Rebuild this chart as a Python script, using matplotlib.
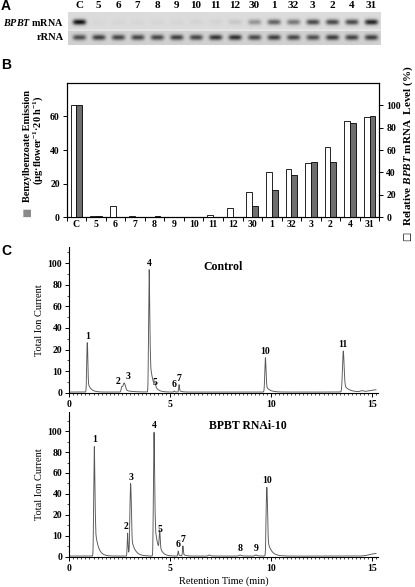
import numpy as np
import matplotlib
matplotlib.use('Agg')
import matplotlib.pyplot as plt

plt.rcParams['font.family'] = ['Liberation Serif', 'DejaVu Serif']
plt.rcParams['font.weight'] = 'bold'
plt.rcParams['mathtext.fontset'] = 'custom'
plt.rcParams['mathtext.rm'] = 'Liberation Serif:bold'
plt.rcParams['mathtext.it'] = 'Liberation Serif:italic:bold'
plt.rcParams['mathtext.bf'] = 'Liberation Serif:bold'
plt.rcParams['axes.linewidth'] = 0.8

# ---------------- data ----------------
lanes = ['C', '5', '6', '7', '8', '9', '10', '11', '12', '30', '1', '32', '3', '2', '4', '31']
mrna_band = [1.0, 0.02, 0.03, 0.03, 0.03, 0.03, 0.04, 0.04, 0.1, 0.35, 0.6, 0.5, 0.72, 0.72, 0.72, 0.9]
rrna_band = [0.72, 0.8, 0.76, 0.76, 0.76, 0.8, 0.76, 0.86, 0.88, 0.74, 0.8, 0.76, 0.72, 0.82, 0.78, 0.8]
emission = [67, 1.0, 0.4, 0.3, 0.7, 0.2, 0.4, 0.2, 0.2, 6.8, 16.5, 25, 33, 32.8, 55.9, 60.3]
mrna_level = [100, 1.2, 9.8, 0.8, 0.3, 0.2, 0.6, 2.1, 8.3, 23, 40.5, 43.5, 48.3, 62.6, 86.1, 89.1]

ctrl_t = [0.89, 2.6, 2.72, 3.96, 4.25, 5.2, 5.44, 9.72, 13.58, 14.5, 15.2]
ctrl_h = [26, 2, 4, 93.6, 1.6, 0.5, 3.4, 15.9, 19, 0.5, 1.0]
ctrl_w = [0.025, 0.03, 0.06, 0.025, 0.03, 0.02, 0.02, 0.03, 0.04, 0.08, 0.3]
ctrl_lab = ['1', '2', '3', '4', '5', '6', '7', '10', '11', '', '']

rnai_t = [1.24, 2.89, 3.04, 4.2, 4.48, 5.4, 5.63, 6.93, 8.46, 9.25, 9.79, 15.2]
rnai_h = [85, 11, 49, 98.8, 9.5, 2.4, 4.8, 0.5, 0.5, 0.5, 46, 1.2]
rnai_w = [0.025, 0.02, 0.03, 0.025, 0.025, 0.02, 0.02, 0.05, 0.05, 0.05, 0.03, 0.3]
rnai_lab = ['1', '2', '3', '4', '5', '6', '7', '', '8', '9', '10', '']

chrom_yticks = [0, 10, 20, 40, 60, 80, 100]
chrom_xticks = [0, 5, 10, 15]

W, H = 415, 587
fig = plt.figure(figsize=(W / 100, H / 100), dpi=100)


def rect(x0, y0, x1, y1):
    return [x0 / W, 1 - y1 / H, (x1 - x0) / W, (y1 - y0) / H]


def ft(x, y, s, **kw):
    return fig.text(x / W, 1 - y / H, s, **kw)


sans = dict(family=['Liberation Sans', 'DejaVu Sans'], weight='bold', size=10)
ft(1, 6, 'A', ha='left', va='center', **sans)
ft(1, 65, 'B', ha='left', va='center', **sans)
ft(1, 251, 'C', ha='left', va='center', **sans)

# ---------------- panel A: gel ----------------
axg = fig.add_axes(rect(68, 12, 380, 45))
x0, x1 = -0.58, 15.48
xs = np.linspace(x0, x1, 700)
ys = np.linspace(0, 33, 80)
X, Y = np.meshgrid(xs, ys)
img = np.where(Y < 17.6, 0.86, 0.82)
img = np.where((Y >= 17.6) & (Y < 18.6), 0.97, img)
for i in range(len(lanes)):
    prof = np.exp(-((X - i) / 0.34) ** 4)
    img = img - 0.8 * mrna_band[i] * prof * np.exp(-((Y - 10) / 2.8) ** 2)
    img = img - 0.72 * rrna_band[i] * prof * np.exp(-((Y - 25.5) / 2.8) ** 2)
img = np.clip(img, 0, 1)
axg.imshow(img, cmap='gray', vmin=0, vmax=1, extent=[x0, x1, 33, 0], aspect='auto',
           interpolation='bilinear')
axg.set_xlim(x0, x1)
axg.set_ylim(33, 0)
axg.axis('off')
for i, lab in enumerate(lanes):
    axg.text(i, -6.5, lab, ha='center', va='center', fontsize=8, clip_on=False)
ft(64, 22, r'$\mathit{BPBT}$ mRNA', ha='right', va='center', fontsize=7.3)
ft(64, 37.5, 'rRNA', ha='right', va='center', fontsize=7.5)

# ---------------- panel B: bars ----------------
axb = fig.add_axes(rect(66.7, 82.7, 379.3, 217.3))
axr = axb.twinx()
x = np.arange(len(lanes))
axb.bar(x + 0.15, emission, 0.3, color='#6e6e6e', edgecolor='black', linewidth=0.6, zorder=3)
axr.bar(x - 0.15, mrna_level, 0.3, color='white', edgecolor='black', linewidth=0.6, zorder=3)
axb.set_xlim(-0.5, len(lanes) - 0.5)
axb.set_ylim(0, 80)
axr.set_ylim(0, 120)
axb.set_yticks([0, 20, 40, 60])
axr.set_yticks([0, 20, 40, 60, 80, 100])
axb.set_xticks(np.arange(-0.5, len(lanes), 1))
axb.set_xticklabels([])
axb.set_xticks(x, minor=True)
axb.set_xticklabels(lanes, minor=True)
axb.tick_params(axis='x', which='major', length=3, width=0.7, direction='out')
axb.tick_params(axis='x', which='minor', length=0, pad=2, labelsize=7)
axb.tick_params(axis='y', length=3, width=0.7, pad=2, labelsize=7)
axr.tick_params(axis='y', length=3, width=0.7, pad=2, labelsize=7)

ft(27.5, 146, 'Benzylbenzoate Emission', rotation=90, ha='center', va='center', fontsize=7.5)
ft(27.5, 212, '■', rotation=90, ha='center', va='center', fontsize=7,
   family='DejaVu Sans', color='#8a8a8a')
ft(38, 140, r'(µg·flower$^{-1}$·20 h$^{-1}$)', rotation=90, ha='center', va='center',
   fontsize=7.5)
ft(408, 146, r'Relative $\mathit{BPBT}$ mRNA  Level (%)', rotation=90, ha='center',
   va='center', fontsize=8)
ft(407, 236, '□', rotation=90, ha='center', va='center', fontsize=7, family='DejaVu Sans')


# ---------------- panel C: chromatograms ----------------
def fwd(y):
    y = np.asarray(y, float)
    return np.where(y <= 20, y / 10, 2 + (y - 20) / 20)


def inv(d):
    d = np.asarray(d, float)
    return np.where(d <= 2, d * 10, 20 + (d - 2) * 20)


def trace(t, pts, hs, ws):
    y = np.full_like(t, 0.3)
    for t0, h, w in zip(pts, hs, ws):
        g = np.exp(-0.5 * ((t - t0) / w) ** 2)
        tail = np.where(t >= t0, np.exp(-(t - t0) / (6 * w)), 0)
        y += h * np.where(t < t0, g, 0.8 * g + 0.2 * tail)
    return y


t = np.linspace(0, 15.2, 6000)


def chrom(ax, pts, hs, ws, labs, ytop, title, title_xy, nudge):
    ax.plot(t, trace(t, pts, hs, ws), color='#555555', lw=0.65)
    ax.set_yscale('function', functions=(fwd, inv))
    ax.set_xlim(0, 15.3)
    ax.set_ylim(0, ytop)
    ax.spines['top'].set_visible(False)
    ax.spines['right'].set_visible(False)
    ax.set_yticks(chrom_yticks)
    ax.set_yticklabels([str(v) for v in chrom_yticks])
    ax.set_yticks([5, 15, 30, 50, 70, 90, 110], minor=True)
    ax.set_xticks(chrom_xticks)
    ax.set_xticks(np.arange(0, 15.3, 0.2), minor=True)
    ax.tick_params(axis='both', which='major', length=3, width=0.7, labelsize=7, pad=2)
    ax.tick_params(axis='both', which='minor', length=1.5, width=0.5)
    ax.set_ylabel('Total Ion Current', fontsize=7.5, labelpad=3)
    for t0, h, lab in zip(pts, hs, labs):
        if lab:
            dx = nudge.get(lab, 0)
            ax.annotate(lab, (t0, h + 0.3), xytext=(dx, 1.5), textcoords='offset points',
                        ha='center', va='bottom', fontsize=7)
    ft(title_xy[0], title_xy[1], title, ha='center', va='center', fontsize=8.5)


axc = fig.add_axes(rect(69.3, 246.9, 378, 392.7))
chrom(axc, ctrl_t, ctrl_h, ctrl_w, ctrl_lab, 115, 'Control', (223, 267),
      {'2': -2.5, '3': 2.5})
axd = fig.add_axes(rect(69.3, 412.3, 378, 556.7))
chrom(axd, rnai_t, rnai_h, rnai_w, rnai_lab, 118, 'BPBT RNAi-10', (248, 426),
      {'2': -1.0, '3': 0.5})
axd.set_xlabel('Retention Time (min)', fontsize=7.5, labelpad=3)

fig.savefig('out.png', dpi=100)
